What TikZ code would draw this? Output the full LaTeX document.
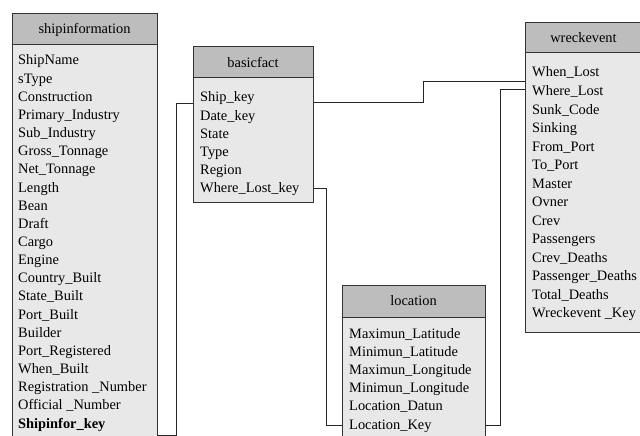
\documentclass[tikz,border=0pt]{standalone}
\usepackage{fontspec}
\setmainfont{Liberation Serif}
\begin{document}
\begin{tikzpicture}[x=1pt,y=-1pt,
  hdr/.style={draw=black!80, fill=black!26, line width=1pt, inner sep=0pt, font=\fontsize{14.4}{16}\selectfont},
  bdy/.style={draw=black!80, fill=black!9, line width=1pt, inner sep=0pt},
  row/.style={anchor=base west, inner sep=0pt, font=\fontsize{14.4}{16}\selectfont},
  conn/.style={draw=black!85, line width=0.9pt}]
\useasboundingbox (0,0) rectangle (640,436);
\clip (0,0) rectangle (640,436);
% shipinformation
\node[bdy, minimum width=145pt, minimum height=395pt] (sib) at (84.5,242.5) {};
\node[hdr, minimum width=145pt, minimum height=31pt] (sih) at (84.5,29.5) {shipinformation};
\foreach \t [count=\i] in {ShipName,sType,Construction,Primary\_Industry,Sub\_Industry,Gross\_Tonnage,Net\_Tonnage,Length,Bean,Draft,Cargo,Engine,Country\_Built,State\_Built,Port\_Built,Builder,Port\_Registered,When\_Built,Registration \_Number,Official \_Number,\textbf{Shipinfor\_key}}
  \node[row] (si-\i) at (18, 65+\i*18.15-18.15) {\t};
% basicfact
\node[bdy, minimum width=120pt, minimum height=124pt] (bfb) at (253,140) {};
\node[hdr, minimum width=120pt, minimum height=31pt] (bfh) at (253,62.5) {basicfact};
\foreach \t [count=\i] in {Ship\_key,Date\_key,State,Type,Region,Where\_Lost\_key}
  \node[row] (bf-\i) at (200, 102+\i*18-18) {\t};
% location
\node[bdy, minimum width=143pt, minimum height=123pt] (lob) at (413.5,378.5) {};
\node[hdr, minimum width=143pt, minimum height=32pt] (loh) at (413.5,301) {location};
\foreach \t [count=\i] in {Maximun\_Latitude,Minimun\_Latitude,Maximun\_Longitude,Minimun\_Longitude,Location\_Datun,Location\_Key}
  \node[row] (lo-\i) at (349, 338+\i*18.2-18.2) {\t};
% wreckevent
\node[bdy, minimum width=117pt, minimum height=279pt] (web) at (583.5,192.5) {};
\node[hdr, minimum width=117pt, minimum height=30pt] (weh) at (583.5,38) {wreckevent};
\foreach \t [count=\i] in {When\_Lost,Where\_Lost,Sunk\_Code,Sinking,From\_Port,To\_Port,Master,Ovner,Crev,Passengers,Crev\_Deaths,Passenger\_Deaths,Total\_Deaths,Wreckevent \_Key}
  \node[row] (we-\i) at (532, 77+\i*18.5-18.5) {\t};
% connectors
\coordinate (k1) at (176,435);
\coordinate (k2) at (423,81);
\coordinate (k3) at (326,188);
\coordinate (k4) at (500,425);
\draw[conn] (sib.east |- k1) -- (k1) |- (bfb.west |- 0,103);
\draw[conn] (bfb.east |- 0,102) -| (k2) -- (web.west |- k2);
\draw[conn] (bfb.east |- k3) -- (k3) |- (lob.west |- 0,425);
\draw[conn] (lob.east |- k4) -- (k4) |- (web.west |- 0,89);
\end{tikzpicture}
\end{document}
